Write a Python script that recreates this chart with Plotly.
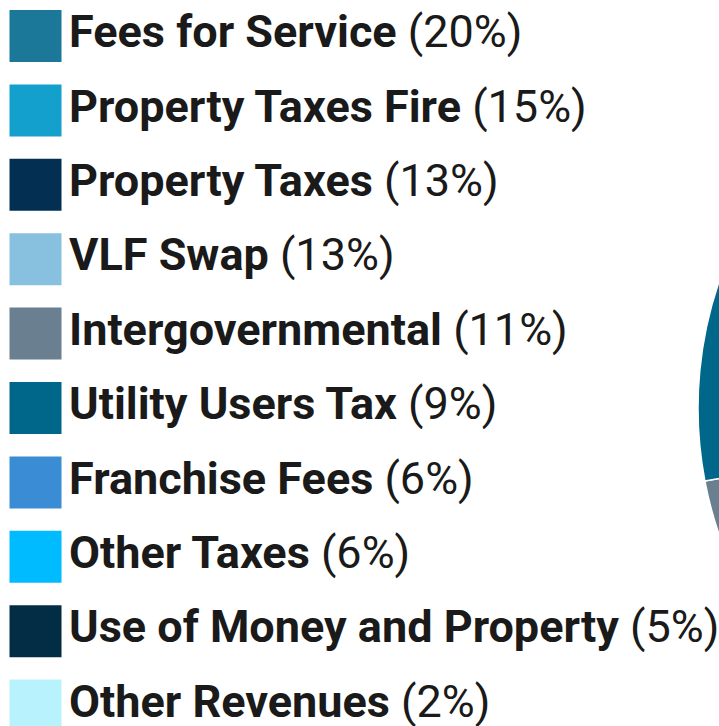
import plotly.graph_objects as go

categories = ["Fees for Service", "Property Taxes Fire", "Property Taxes", "VLF Swap",
              "Intergovernmental", "Utility Users Tax", "Franchise Fees", "Other Taxes",
              "Use of Money and Property", "Other Revenues"]
percents = [20, 15, 13, 13, 11, 9, 6, 6, 5, 2]
colors = ["#1B7898", "#14A0CC", "#032F52", "#88C1E0", "#6A7F90",
          "#00668A", "#3A8CD4", "#00BBFF", "#032D45", "#B8F3FD"]

labels_text = [f"<b>{c}</b> ({p}%)" for c, p in zip(categories, percents)]
idx = list(range(len(categories)))

W, H = 1500, 820

fig = go.Figure()

# pie (mostly off to the right, like the cropped reference)
fig.add_trace(go.Pie(
    labels=categories, values=percents, sort=False, direction="clockwise",
    rotation=0, marker=dict(colors=colors, line=dict(color="white", width=1.5)),
    textinfo="none", hoverinfo="label+percent", showlegend=False,
    domain=dict(x=[698 / W, 1478 / W], y=[(H - 798) / H, (H - 18) / H]),
))

# legend drawn as square markers with text
fig.add_trace(go.Scatter(
    x=[0] * len(categories), y=idx, mode="markers+text",
    marker=dict(symbol="square", size=52, color=colors, line=dict(width=0)),
    text=labels_text, textposition="middle right",
    textfont=dict(family="Roboto", size=45, color="#1a1a1a"),
    cliponaxis=False, showlegend=False, hoverinfo="skip",
))

fig.update_layout(
    width=W, height=H,
    margin=dict(l=0, r=0, t=0, b=0),
    paper_bgcolor="white", plot_bgcolor="rgba(0,0,0,0)",
    xaxis=dict(domain=[0, 698 / W], range=[-35.5, 662.5], visible=False, fixedrange=True),
    yaxis=dict(domain=[0, 1], range=[(H - 36) / 74.4, -36 / 74.4], visible=False, fixedrange=True),
    showlegend=False,
)

fig.write_html(
    "out.html",
    post_script="document.documentElement.style.overflow='hidden';"
                "document.body.style.margin='0';document.body.style.overflow='visible';",
)
